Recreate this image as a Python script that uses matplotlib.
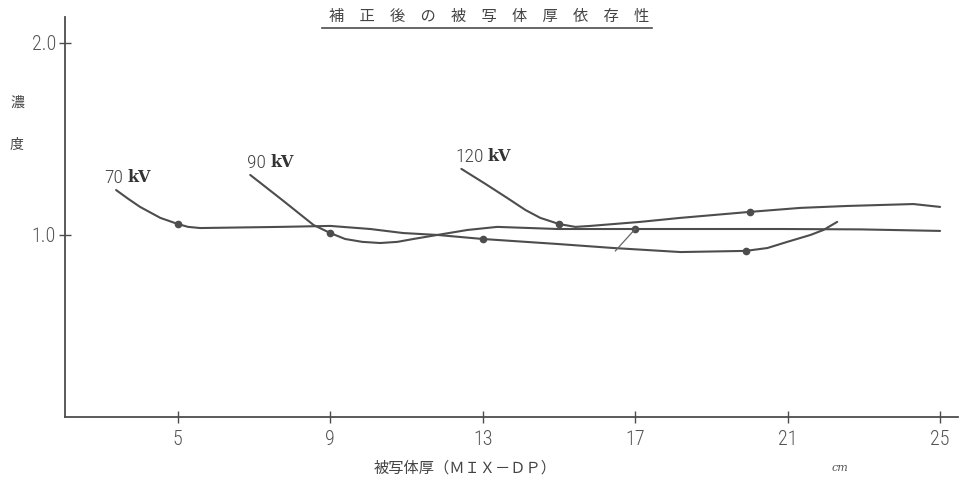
import matplotlib
matplotlib.use("Agg")
import matplotlib.pyplot as plt
from matplotlib.lines import Line2D

plt.rcParams['font.family'] = ['Noto Sans CJK JP', 'DejaVu Sans']

# ---- data ----
x_ticks = [5, 9, 13, 17, 21, 25]
y_ticks = [1.0, 2.0]
y_tick_labels = ["1.0", "2.0"]

kv70_x = [3.38, 3.70, 4.01, 4.54, 5.0, 5.27, 5.59, 7.69, 9.0, 10.05, 10.91, 11.81, 13.0,
          14.96, 16.43, 18.19, 19.9, 20.47, 20.99, 21.60, 21.94, 22.30]
kv70_y = [1.234, 1.188, 1.146, 1.089, 1.057, 1.042, 1.036, 1.042, 1.047, 1.031, 1.010, 1.0, 0.979,
          0.953, 0.932, 0.911, 0.917, 0.932, 0.964, 1.0, 1.026, 1.068]
kv70_mx = [5.0, 13.0, 19.9]
kv70_my = [1.057, 0.979, 0.917]

kv90_x = [6.90, 7.74, 8.56, 9.0, 9.39, 9.84, 10.31, 10.76, 11.18, 11.81, 12.60, 13.38,
          14.96, 17.0, 20.81, 22.91, 25.0]
kv90_y = [1.3125, 1.182, 1.052, 1.010, 0.979, 0.964, 0.958, 0.964, 0.979, 1.0, 1.026, 1.042,
          1.031, 1.031, 1.031, 1.029, 1.021]
kv90_mx = [9.0, 17.0]
kv90_my = [1.010, 1.031]

kv120_x = [12.44, 13.07, 13.64, 14.12, 14.51, 15.0, 15.43, 15.82, 17.13, 18.19, 20.0,
           21.34, 22.57, 24.30, 25.0]
kv120_y = [1.344, 1.266, 1.193, 1.130, 1.089, 1.057, 1.042, 1.047, 1.068, 1.089, 1.120,
           1.141, 1.151, 1.161, 1.146]
kv120_mx = [15.0, 20.0]
kv120_my = [1.057, 1.120]

leader_x = [16.48, 17.0]
leader_y = [0.917, 1.031]

series_numbers = ["70", "90", "120"]
title_text = "補　正　後　の　被　写　体　厚　依　存　性"
xlabel_text = "被写体厚（ＭＩＸ－ＤＰ）"
ylabel_chars = ["濃", "度"]
unit_text = "cm"

# ---- figure ----
LC = "#4d4d4d"
NUM_FONT = ["Roboto Condensed", "Roboto", "DejaVu Sans"]
fig = plt.figure(figsize=(9.6, 4.82), dpi=100)
fig.patch.set_facecolor("white")
ax = fig.add_axes([65 / 960, 65 / 482, 893 / 960, 400 / 482])
ax.set_xlim(2.04, 25.47)
ax.set_ylim(0.052, 2.135)

for s in ("top", "right"):
    ax.spines[s].set_visible(False)
for s in ("left", "bottom"):
    ax.spines[s].set_color(LC)
    ax.spines[s].set_linewidth(1.3)

ax.set_xticks(x_ticks)
ax.set_xticklabels([str(v) for v in x_ticks])
ax.set_yticks(y_ticks)
ax.set_yticklabels(y_tick_labels)
ax.tick_params(direction="inout", length=9, width=1.0, color=LC,
               labelcolor="#555555", labelsize=14.5)
ax.tick_params(axis="x", pad=5)
ax.tick_params(axis="y", pad=2)
for lab in ax.get_xticklabels() + ax.get_yticklabels():
    lab.set_family(NUM_FONT)
    lab.set_fontweight("light")

for xs, ys, mx, my in ((kv70_x, kv70_y, kv70_mx, kv70_my),
                       (kv90_x, kv90_y, kv90_mx, kv90_my),
                       (kv120_x, kv120_y, kv120_mx, kv120_my)):
    ax.plot(xs, ys, color=LC, lw=1.5, solid_capstyle="round", solid_joinstyle="round")
    ax.plot(mx, my, "o", color=LC, ms=4.5, ls="none")
ax.plot(leader_x, leader_y, color="#666666", lw=0.9)

# series labels
label_pos = [(3.07, 1.297), (6.82, 1.375), (12.28, 1.406)]
for num, (lx, ly) in zip(series_numbers, label_pos):
    t = ax.text(lx, ly, num, ha="left", va="center", fontsize=14, color="#444444",
                family=NUM_FONT, fontweight="light")
    ax.annotate("kV", xy=(1, 0), xycoords=t, xytext=(3, 1), textcoords="offset points",
                ha="left", va="bottom", fontsize=11.5, fontweight="bold",
                color="#333333", family=["DejaVu Serif"])

# title with underline
fig.text(489 / 960, 1 - 16 / 482, title_text, ha="center", va="center",
         fontsize=11, color="#444444")
fig.add_artist(Line2D([322 / 960, 652 / 960], [1 - 28 / 482, 1 - 28 / 482],
                      color=LC, lw=1.2, transform=fig.transFigure))

# axis labels
fig.text(465 / 960, 1 - 468 / 482, xlabel_text, ha="center", va="center",
         fontsize=11, color="#444444")
fig.text(17 / 960, 1 - 103 / 482, ylabel_chars[0], ha="center", va="center",
         fontsize=10, color="#444444")
fig.text(17 / 960, 1 - 145 / 482, ylabel_chars[1], ha="center", va="center",
         fontsize=10, color="#444444")
fig.text(840 / 960, 1 - 468 / 482, unit_text, ha="center", va="center",
         fontsize=8, style="italic", color="#555555", family=["DejaVu Serif"])

fig.savefig("out.png", dpi=100, facecolor="white")
